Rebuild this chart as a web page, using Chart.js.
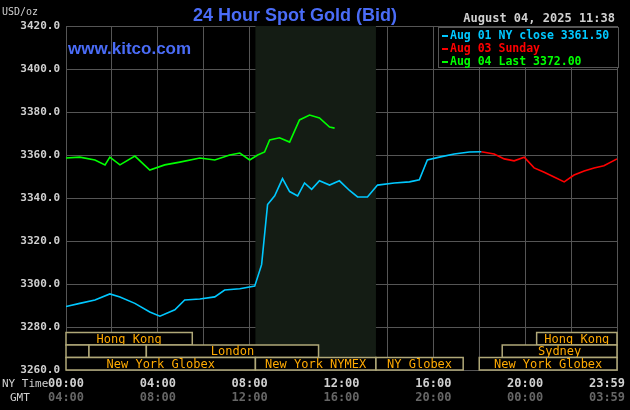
<!DOCTYPE html>
<html><head><meta charset="utf-8">
<script src="https://cdn.jsdelivr.net/npm/chart.js@4"></script>
<style>html,body{margin:0;background:#000;}#w{width:630px;height:410px;}</style>
</head><body><div id="w"><canvas id="c"></canvas></div>
<script>
const yTicks=[3260,3280,3300,3320,3340,3360,3380,3400,3420];
const nyLabels={0:'00:00',4:'04:00',8:'08:00',12:'12:00',16:'16:00',20:'20:00',24:'23:59'};
const gmtLabels={0:'04:00',4:'08:00',8:'12:00',12:'16:00',16:'20:00',20:'00:00',24:'03:59'};
const cyanX=[0,0.6,1.26,1.91,2.35,3,3.65,4.09,4.74,5.17,5.83,6.48,6.91,7.57,8.22,8.52,8.78,9.09,9.43,9.74,10.09,10.39,10.7,11.04,11.48,11.91,12.35,12.7,13.13,13.57,14.3,14.96,15.39,15.74,16.26,16.91,17.57,18.09];
const cyanY=[3289.5,3291,3292.6,3295.4,3294,3291,3287,3285,3288,3292.6,3293,3294,3297.2,3297.8,3299,3309,3337,3341,3349,3343,3341,3347,3344,3348,3346,3348,3343.5,3340.5,3340.5,3346,3347,3347.5,3348.5,3357.7,3359,3360.5,3361.4,3361.5];
const redX=[18.09,18.65,19.09,19.52,19.96,20.39,20.83,21.26,21.7,22.13,22.57,23,23.43,24];
const redY=[3361.5,3360.5,3358.2,3357.3,3359,3354,3352,3349.8,3347.5,3350.7,3352.6,3354,3355,3358.2];
const greenX=[0,0.6,1.26,1.7,1.91,2.35,3,3.65,4.3,4.96,5.83,6.48,7.13,7.57,8,8.35,8.65,8.87,9.3,9.74,10.17,10.61,11.04,11.48,11.7];
const greenY=[3358.6,3359,3357.7,3355.4,3359,3355.4,3359.5,3353,3355.4,3356.7,3358.6,3357.7,3360,3360.9,3357.7,3360,3361.4,3367,3368,3366,3376.3,3378.6,3377.2,3373,3372.5];
const sessNames=['Hong Kong','Hong Kong','','','London','Sydney','New York Globex','New York NYMEX','NY Globex','New York Globex'];
const sessStart=[0,20.5,0,1,3.5,19,0,8.25,13.5,18];
const sessEnd=[5.5,24,1,3.5,11,24,8.25,13.5,17.3,24];
const sessRow=[2,2,1,1,1,1,0,0,0,0];
const legendTexts=['Aug 01 NY close 3361.50','Aug 03 Sunday','Aug 04 Last 3372.00'];
const colors=['#00c8ff','#ff0000','#00ff00'];
const MONO='"DejaVu Sans Mono", monospace';
const deco={id:'deco',
beforeDatasetsDraw(ch){const {ctx,chartArea:a,scales:{x}}=ch;ctx.save();ctx.fillStyle='#141c14';
 const l=x.getPixelForValue(8.25),r=x.getPixelForValue(13.5);ctx.fillRect(l,a.top,r-l,a.bottom-a.top);ctx.restore();},
afterDatasetsDraw(ch){const {ctx,chartArea:a,scales:{x}}=ch;ctx.save();
 ctx.font='12px '+MONO;ctx.textAlign='center';ctx.textBaseline='middle';
 for(let i=0;i<sessNames.length;i++){const l=x.getPixelForValue(sessStart[i]),r=x.getPixelForValue(sessEnd[i]);
  const b=a.bottom-sessRow[i]*12.5,t=b-12.5;ctx.fillStyle='#000';ctx.fillRect(l,t,r-l,b-t);
  ctx.strokeStyle='#b0a878';ctx.lineWidth=1.5;ctx.strokeRect(l,t,r-l,b-t);
  ctx.fillStyle='#ffaa00';ctx.fillText(sessNames[i],(l+r)/2,(t+b)/2+1);}
 ctx.fillStyle='#000';ctx.fillRect(438,28,180,40);ctx.strokeStyle='#555';ctx.lineWidth=1;ctx.strokeRect(438.5,27.5,180,40);
 ctx.textAlign='left';ctx.font='bold 11.5px '+MONO;
 legendTexts.forEach((t,i)=>{ctx.fillStyle=colors[i];ctx.fillRect(442,35+i*13,6,2);ctx.fillText(t,450,36+i*13);});
 ctx.font='bold 12px '+MONO;ctx.fillStyle='#d0d0d0';ctx.textAlign='right';ctx.fillText('August 04, 2025 11:38',615,19);
 ctx.font='bold 18px "Liberation Sans", Arial';ctx.fillStyle='#4a6cf7';ctx.textAlign='center';ctx.fillText('24 Hour Spot Gold (Bid)',295,16);
 ctx.textAlign='left';ctx.font='bold 17px "Liberation Sans", Arial';ctx.fillText('www.kitco.com',68,49);
 ctx.font='10px '+MONO;ctx.fillStyle='#d0d0d0';ctx.fillText('USD/oz',2,12);
 ctx.font='11px '+MONO;ctx.fillText('NY Time',2,384);ctx.fillText('GMT',10,398);
 ctx.textAlign='center';ctx.font='bold 12px '+MONO;
 for(const k in nyLabels){let px=x.getPixelForValue(+k);if(k==24)px-=10;
  ctx.fillStyle='#d0d0d0';ctx.fillText(nyLabels[k],px,384);ctx.fillStyle='#666';ctx.fillText(gmtLabels[k],px,398);}
 ctx.restore();}};
const mk=(X,Y,c)=>({data:X.map((v,i)=>({x:v,y:Y[i]})),borderColor:c,borderWidth:1.6,pointRadius:0,tension:0});
new Chart(document.getElementById('c'),{type:'line',
data:{datasets:[mk(cyanX,cyanY,colors[0]),mk(redX,redY,colors[1]),mk(greenX,greenY,colors[2])]},
options:{responsive:true,maintainAspectRatio:false,animation:false,
 layout:{padding:{top:26,right:13,bottom:40}},
 plugins:{legend:{display:false},tooltip:{enabled:false}},
 scales:{
  x:{type:'linear',min:0,max:24,
   afterBuildTicks(s){s.ticks=[0,2,4,6,8,10,12,14,16,18,20,22,24].map(v=>({value:v}));},
   grid:{color:'#555',drawTicks:false},border:{color:'#555'},ticks:{display:false}},
  y:{min:3260,max:3420,afterFit(s){s.width=66;},
   afterBuildTicks(s){s.ticks=yTicks.map(v=>({value:v}));},
   grid:{color:'#555',drawTicks:false},border:{color:'#555'},
   ticks:{padding:6,color:'#d0d0d0',font:{family:MONO,size:11,weight:'bold'},callback:v=>v.toFixed(1)}}}},
plugins:[deco]});
</script></body></html>
